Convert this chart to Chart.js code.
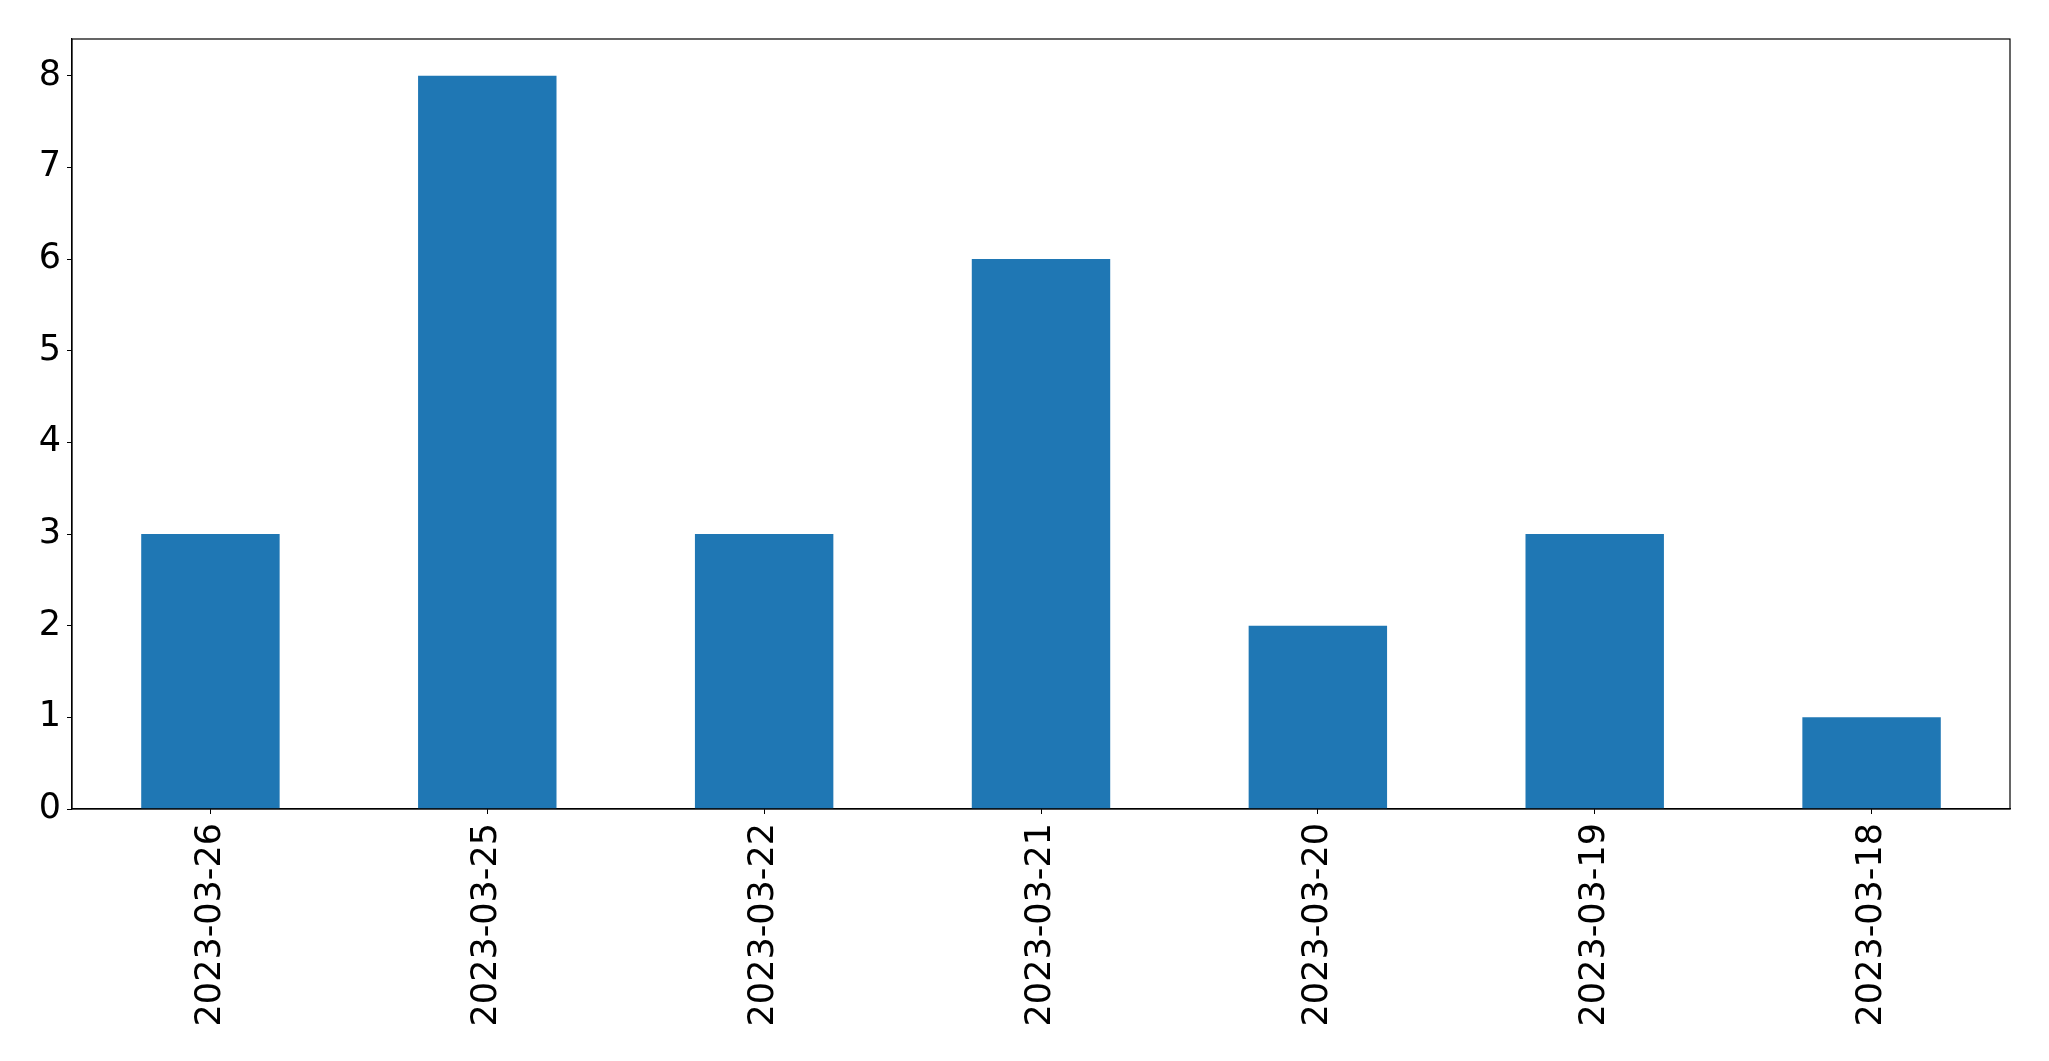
<!DOCTYPE html>
<html>
<head>
<meta charset="utf-8">
<script src="https://cdn.jsdelivr.net/npm/chart.js@4/dist/chart.umd.min.js"></script>
<style>
  html, body { margin: 0; padding: 0; background: #fff; }
  #wrap { width: 2049px; height: 1061px; }
</style>
</head>
<body>
<div id="wrap"><canvas id="chart" width="2049" height="1061"></canvas></div>
<script>
// Data
const dates = ['2023-03-26', '2023-03-25', '2023-03-22', '2023-03-21', '2023-03-20', '2023-03-19', '2023-03-18'];
const counts = [3, 8, 3, 6, 2, 3, 1];
const yMax = 8.4;

// draw the full box round the plot area like matplotlib does
const frameBox = {
  id: 'frameBox',
  afterDraw(chart) {
    const a = chart.chartArea;
    const ctx = chart.ctx;
    ctx.save();
    ctx.strokeStyle = '#000';
    ctx.lineWidth = 1.2;
    ctx.strokeRect(a.left, a.top, a.right - a.left, a.bottom - a.top);
    ctx.restore();
  }
};

const font = { family: 'DejaVu Sans', size: 35 };

new Chart(document.getElementById('chart').getContext('2d'), {
  type: 'bar',
  data: {
    labels: dates,
    datasets: [{
      data: counts,
      backgroundColor: '#1f77b4',
      borderWidth: 0,
      barPercentage: 0.5,
      categoryPercentage: 1.0
    }]
  },
  options: {
    responsive: false,
    animation: false,
    layout: { padding: { top: 39, right: 39, left: 0, bottom: 0 } },
    plugins: {
      legend: { display: false },
      tooltip: { enabled: false }
    },
    scales: {
      x: {
        offset: true,
        grid: { display: true, drawOnChartArea: false, drawTicks: true, tickLength: 5, color: '#000', offset: false },
        border: { display: true, color: '#000', width: 1.2 },
        ticks: { color: '#000', font: font, minRotation: 90, maxRotation: 90, padding: 9, autoSkip: false },
        afterFit(scale) { scale.height = 252; }
      },
      y: {
        min: 0,
        max: yMax,
        grid: { display: true, drawOnChartArea: false, drawTicks: true, tickLength: 5, color: '#000' },
        border: { display: true, color: '#000', width: 1.2 },
        ticks: { color: '#000', font: font, stepSize: 1, includeBounds: false, padding: 6 },
        afterFit(scale) { scale.width = 72; }
      }
    }
  },
  plugins: [frameBox]
});
</script>
</body>
</html>
